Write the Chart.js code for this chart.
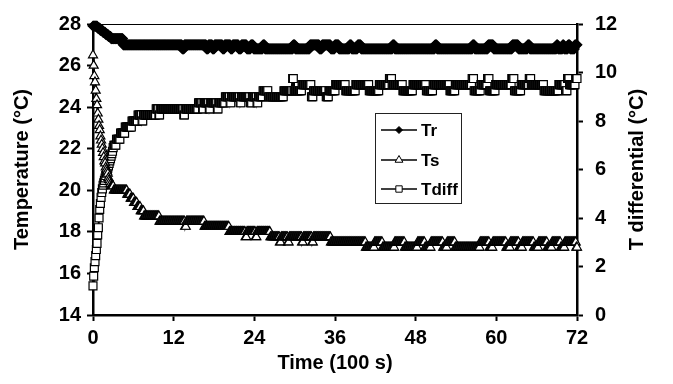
<!DOCTYPE html>
<html>
<head>
<meta charset="utf-8">
<script src="https://cdn.jsdelivr.net/npm/chart.js@4.4.1/dist/chart.umd.min.js"></script>
<style>
  html, body { margin: 0; padding: 0; background: #fff; }
  #wrap { width: 673px; height: 384px; }
</style>
</head>
<body>
<div id="wrap"><canvas id="chart" width="673" height="384"></canvas></div>
<script>
// logger interval: 10 s = 0.1 on the time axis (units of 100 s)
const STEP = 0.1;
const xTicks = [0, 12, 24, 36, 48, 60, 72];
const tempTicks = [14, 16, 18, 20, 22, 24, 26, 28];
const diffTicks = [0, 2, 4, 6, 8, 10, 12];

// first samples, one per 10 s
const tsEarly = [26.5, 26.0, 25.5, 25.2, 24.8, 24.4, 24.1, 23.7, 23.4, 23.1, 22.9, 22.6, 22.4, 22.2,
  22.0, 21.8, 21.6, 21.4, 21.3, 21.1, 21.0, 20.9, 20.8, 20.6, 20.5, 20.4, 20.3];
const tdEarly = [1.2, 1.6, 1.95, 2.2, 2.45, 2.7, 2.95, 3.3, 3.6, 4.0, 4.35, 4.6, 4.85, 5.05, 5.2,
  5.35, 5.45, 5.55, 5.65, 5.75, 5.85, 5.95, 6.05, 6.15, 6.25, 6.35, 6.45, 6.55, 6.65, 6.75, 6.9];

// afterwards the sensors hold a reading: [until time, value]
const trRuns = [[0.6, 27.9], [1.0, 27.8], [1.4, 27.7], [1.8, 27.6], [2.2, 27.5], [2.6, 27.4], [4.4, 27.3],
  [13.2, 27.0], [13.5, 26.8], [16.8, 27.0], [17.1, 26.8], [17.7, 27.0], [18.0, 26.8], [19.2, 27.0],
  [19.5, 26.8], [20.4, 27.0], [20.7, 26.8], [21.6, 27.0], [22.0, 26.8], [22.8, 27.0], [23.4, 26.8],
  [23.8, 27.0], [25.2, 26.8], [25.5, 27.0], [29.7, 26.8], [30.0, 27.0], [32.2, 26.8], [33.6, 27.0],
  [34.0, 26.8], [35.3, 27.0], [35.9, 26.8], [36.5, 27.0], [38.1, 26.8], [38.4, 27.0], [39.3, 26.8],
  [39.8, 27.0], [44.5, 26.8], [44.8, 27.0], [50.8, 26.8], [51.1, 27.0], [56.4, 26.8], [56.7, 27.0],
  [58.7, 26.8], [59.5, 27.0], [62.3, 26.8], [63.2, 27.0], [64.6, 26.8], [64.9, 27.0], [68.9, 26.8],
  [69.1, 27.0], [69.8, 26.8], [70.0, 27.0], [70.6, 26.8], [70.9, 27.0], [71.6, 26.8], [72.0, 27.0]];
const tsRuns = [[3.0, 20.2], [5.0, 20.0], [5.5, 19.8], [6.0, 19.6], [6.5, 19.4], [7.0, 19.2], [7.5, 19.0],
  [9.8, 18.75], [13.6, 18.5], [13.8, 18.25], [16.5, 18.5], [20.2, 18.25], [22.6, 18.0], [22.8, 17.75],
  [24.1, 18.0], [24.3, 17.75], [26.3, 18.0], [27.7, 17.75], [27.9, 17.5], [28.9, 17.75], [29.1, 17.5],
  [31.0, 17.75], [31.2, 17.5], [32.5, 17.75], [32.7, 17.5], [35.3, 17.75], [40.5, 17.5], [41.8, 17.25],
  [43.0, 17.5], [44.8, 17.25], [46.3, 17.5], [48.2, 17.25], [49.3, 17.5], [50.2, 17.25], [52.0, 17.5],
  [52.6, 17.25], [53.8, 17.5], [57.5, 17.25], [58.9, 17.5], [59.4, 17.25], [61.4, 17.5], [62.0, 17.25],
  [63.3, 17.5], [63.8, 17.25], [65.5, 17.5], [66.2, 17.25], [67.5, 17.5], [68.2, 17.25], [69.5, 17.5],
  [70.1, 17.25], [71.8, 17.5], [72.0, 17.25]];
const tdRuns = [[3.4, 7.0], [4.0, 7.25], [4.7, 7.5], [5.7, 7.75], [6.6, 8.0], [7.2, 8.25], [7.4, 8.0],
  [9.3, 8.25], [9.7, 8.5], [9.9, 8.25], [13.4, 8.5], [13.6, 8.25], [15.6, 8.5], [16.2, 8.75], [16.4, 8.5],
  [17.2, 8.75], [17.4, 8.5], [18.4, 8.75], [18.6, 8.5], [19.6, 8.75], [20.3, 9.0], [20.5, 8.75],
  [21.8, 9.0], [22.0, 8.75], [23.3, 9.0], [23.6, 8.75], [24.3, 9.0], [24.5, 8.75], [25.2, 9.0],
  [26.0, 9.25], [28.3, 9.0], [29.6, 9.25], [29.8, 9.75], [31.0, 9.25], [32.4, 9.5], [32.7, 9.0],
  [34.6, 9.25], [35.0, 9.0], [36.0, 9.25], [37.5, 9.5], [39.0, 9.25], [41.0, 9.5], [42.5, 9.25],
  [44.0, 9.5], [44.4, 9.75], [46.0, 9.5], [47.5, 9.25], [49.5, 9.5], [50.5, 9.25], [53.0, 9.5],
  [53.8, 9.25], [56.3, 9.5], [56.6, 9.75], [57.6, 9.25], [58.6, 9.5], [58.9, 9.75], [59.8, 9.25],
  [62.2, 9.5], [62.6, 9.75], [63.6, 9.25], [64.8, 9.5], [65.1, 9.75], [67.0, 9.5], [69.2, 9.25],
  [70.2, 9.5], [70.5, 9.25], [70.8, 9.75], [71.7, 9.5], [72.0, 9.75]];

function samples(early, runs) {
    const pts = early.map((v, i) => ({ x: i * STEP, y: v }));
    let i = early.length;
    runs.forEach(([until, v]) => {
        const last = Math.round(until / STEP);
        for (; i <= last; i++) pts.push({ x: +(i * STEP).toFixed(1), y: v });
    });
    return pts;
}

const FONT = '"Liberation Sans", Arial, sans-serif';

function drawMarker(ctx, style, r, x, y, fill) {
    ctx.save();
    ctx.fillStyle = fill; ctx.strokeStyle = '#000'; ctx.lineWidth = 1;
    ctx.beginPath();
    if (style === 'rectRot') {
        ctx.moveTo(x, y - r); ctx.lineTo(x + r, y); ctx.lineTo(x, y + r); ctx.lineTo(x - r, y);
    } else if (style === 'triangle') {
        ctx.moveTo(x, y - r); ctx.lineTo(x + r * 0.866, y + r * 0.5); ctx.lineTo(x - r * 0.866, y + r * 0.5);
    } else {
        const h = r * Math.SQRT1_2;
        ctx.rect(x - h, y - h, 2 * h, 2 * h);
    }
    ctx.closePath(); ctx.fill(); ctx.stroke();
    ctx.restore();
}

const decor = {
    id: 'decor',
    beforeDatasetsDraw(chart) {
        const { ctx, chartArea: a } = chart;
        ctx.save();
        ctx.strokeStyle = '#000'; ctx.lineWidth = 1;
        ctx.beginPath(); ctx.moveTo(a.left, a.top + 0.5); ctx.lineTo(a.right, a.top + 0.5); ctx.stroke();
        ctx.restore();
    },
    afterDraw(chart) {
        const { ctx, chartArea: a } = chart;
        ctx.save();
        ctx.fillStyle = '#000';
        ctx.font = 'bold 20px ' + FONT;
        ctx.textAlign = 'center'; ctx.textBaseline = 'middle';
        ctx.fillText('Time (100 s)', (a.left + a.right) / 2, 363);
        [[22, 'Temperature (\u00B0C)'], [637, 'T differential (\u00B0C)']].forEach(([x, t]) => {
            ctx.save(); ctx.translate(x, (a.top + a.bottom) / 2); ctx.rotate(-Math.PI / 2);
            ctx.fillText(t, 0, 0); ctx.restore();
        });
        // legend box
        ctx.strokeStyle = '#222'; ctx.lineWidth = 1;
        ctx.strokeRect(375.5, 113.5, 86, 90);
        ctx.font = 'bold 17px ' + FONT; ctx.textAlign = 'left';
        const rows = [130, 160, 189];
        chart.data.datasets.forEach((ds, i) => {
            const y = rows[i];
            ctx.strokeStyle = '#000'; ctx.lineWidth = 1.5;
            ctx.beginPath(); ctx.moveTo(381, y); ctx.lineTo(417, y); ctx.stroke();
            drawMarker(ctx, ds.pointStyle, ds.pointStyle === 'rectRot' ? 3.5 : 4.5, 399, y, ds.pointBackgroundColor);
            ctx.fillStyle = '#000';
            ctx.fillText(ds.label, 421, y + 1);
        });
        ctx.restore();
    }
};

const axisCommon = {
    border: { display: true, color: '#000', width: 2.5 },
    grid: { display: true, drawOnChartArea: false, drawTicks: true, tickLength: 6, tickWidth: 2, tickColor: '#000' },
};

new Chart(document.getElementById('chart'), {
    type: 'line',
    data: {
        datasets: [
            { label: 'Tr', data: samples([], trRuns), yAxisID: 'y', pointStyle: 'rectRot', pointRadius: 4.8,
              pointBackgroundColor: '#000', pointBorderColor: '#000', pointBorderWidth: 1.2,
              borderColor: '#000', borderWidth: 2, clip: false },
            { label: 'Ts', data: samples(tsEarly, tsRuns), yAxisID: 'y', pointStyle: 'triangle', pointRadius: 5.2,
              pointBackgroundColor: '#fff', pointBorderColor: '#000', pointBorderWidth: 1.2,
              borderColor: '#000', borderWidth: 2, clip: false },
            { label: 'Tdiff', data: samples(tdEarly, tdRuns), yAxisID: 'y1', pointStyle: 'rect', pointRadius: 5.6,
              pointBackgroundColor: '#fff', pointBorderColor: '#000', pointBorderWidth: 1.2,
              borderColor: '#000', borderWidth: 2, clip: false }
        ]
    },
    options: {
        responsive: false, animation: false, events: [],
        layout: { padding: { top: 20, left: 0, right: 0, bottom: 0 } },
        plugins: { legend: { display: false }, tooltip: { enabled: false } },
        scales: {
            x: { type: 'linear', min: 0, max: 72, ...axisCommon,
                 afterBuildTicks: s => { s.ticks = xTicks.map(v => ({ value: v })); },
                 afterFit: s => { s.height = 69; },
                 ticks: { color: '#000', padding: 5, maxRotation: 0, font: { family: FONT, size: 20, weight: 'bold' } } },
            y: { position: 'left', min: 14, max: 28, ...axisCommon,
                 afterBuildTicks: s => { s.ticks = tempTicks.map(v => ({ value: v })); },
                 afterFit: s => { s.width = 93; },
                 ticks: { color: '#000', padding: 6, font: { family: FONT, size: 20, weight: 'bold' } } },
            y1: { position: 'right', min: 0, max: 12, ...axisCommon,
                 afterBuildTicks: s => { s.ticks = diffTicks.map(v => ({ value: v })); },
                 afterFit: s => { s.width = 96; },
                 ticks: { color: '#000', padding: 12, font: { family: FONT, size: 20, weight: 'bold' } } }
        }
    },
    plugins: [decor]
});
</script>
</body>
</html>
